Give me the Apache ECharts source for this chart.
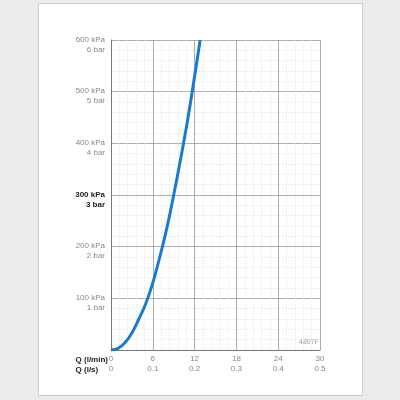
<!DOCTYPE html><html><head><meta charset="utf-8">
<script src="https://cdn.jsdelivr.net/npm/echarts@6/dist/echarts.min.js"></script>
<style>body{margin:0;background:#ececec;width:400px;height:400px;position:relative;overflow:hidden}
#pg{position:absolute;left:38px;top:3px;width:323px;height:391px;background:#fff;border:1px solid #cfcfcf}
#c{position:absolute;left:0;top:0;width:400px;height:400px}</style></head><body>
<div id="pg"></div><div id="c"></div>
<script>
const flowLmin=[0,1,2,3,4,5,6,7,8,9,10,11,12,12.8];
const pressureKPa=[0,3,14,33,60,90,130,180,235,300,370,445,530,600];
const yTicks={100:'100 kPa\n1 bar',200:'200 kPa\n2 bar',300:'300 kPa\n3 bar',400:'400 kPa\n4 bar',500:'500 kPa\n5 bar',600:'600 kPa\n6 bar'};
const xTicks={0:'0\n0',6:'6\n0.1',12:'12\n0.2',18:'18\n0.3',24:'24\n0.4',30:'30\n0.5'};
const ch=echarts.init(document.getElementById('c'));
ch.setOption({animation:false,
grid:{left:111,right:80,top:40,bottom:50},
xAxis:{type:'value',min:0,max:30,interval:6,axisLine:{show:true,lineStyle:{color:'#777'}},axisTick:{show:false},
 axisLabel:{color:'#888',fontSize:8,lineHeight:10,fontFamily:'Liberation Sans',margin:4,formatter:v=>xTicks[v]},
 splitLine:{lineStyle:{color:'#999',width:0.8}},minorTick:{show:false,splitNumber:5},minorSplitLine:{show:true,lineStyle:{color:'#e4e4e4',width:0.6,type:[2,1]}}},
yAxis:{type:'value',min:0,max:600,interval:100,axisLine:{show:true,lineStyle:{color:'#777'}},axisTick:{show:false},
 axisLabel:{fontSize:8,lineHeight:10,padding:[9,0,0,0],fontFamily:'Liberation Sans',margin:6,formatter:v=>v===300?'{b|'+yTicks[v].replace('\n','}\n{b|')+'}':(yTicks[v]||''),color:'#888',rich:{b:{fontWeight:'bold',color:'#222',fontSize:8,lineHeight:10,fontFamily:'Liberation Sans',align:'right'}}},
 splitLine:{lineStyle:{color:'#999',width:0.8}},minorTick:{show:false,splitNumber:5},minorSplitLine:{show:true,lineStyle:{color:'#e4e4e4',width:0.6,type:[2,1]}}},
graphic:[{type:'text',right:292,top:355,style:{text:'Q (l/min)\nQ (l/s)',font:'bold 8px Liberation Sans',fill:'#222',lineHeight:10,align:'right'}},
 {type:'text',left:299,top:339,style:{text:'4807F',font:'7px Liberation Sans',fill:'#999'}}],
series:[{type:'line',smooth:0.4,symbol:'none',data:flowLmin.map((q,i)=>[q,pressureKPa[i]]),lineStyle:{color:'#1a7ad0',width:3}}]});
</script></body></html>
